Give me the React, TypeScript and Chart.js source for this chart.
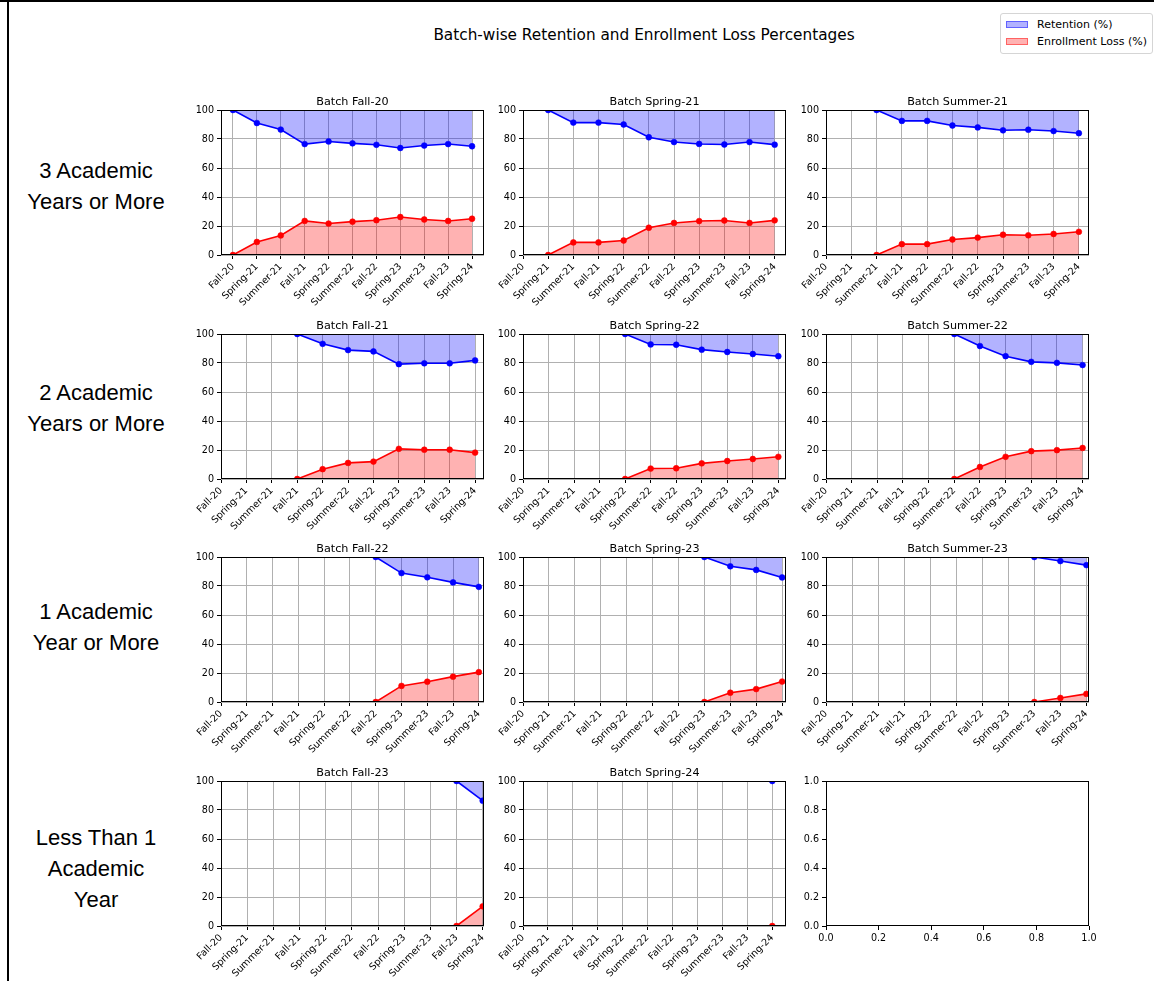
import React, { useEffect, useRef } from 'react';
import { Chart, registerables } from 'chart.js';

Chart.register(...registerables);
Chart.defaults.font.family = '"DejaVu Sans", sans-serif';
Chart.defaults.color = '#000';

// ---------- data ----------
const semesters = ['Fall-20', 'Spring-21', 'Summer-21', 'Fall-21', 'Spring-22', 'Summer-22', 'Fall-22', 'Spring-23', 'Summer-23', 'Fall-23', 'Spring-24'];
const yTicks = [0, 20, 40, 60, 80, 100];
const emptyTicks = [0, 0.2, 0.4, 0.6, 0.8, 1.0];

const retentionFall20 = [100, 91, 86.5, 76.5, 78.3, 77, 76, 73.8, 75.5, 76.5, 75];
const lossFall20 = [0, 9, 13.5, 23.5, 21.7, 23, 24, 26.2, 24.5, 23.5, 25];
const retentionSpring21 = [100, 91.3, 91.3, 90, 81.2, 77.9, 76.6, 76.2, 77.9, 76.1];
const lossSpring21 = [0, 8.7, 8.7, 10, 18.8, 22.1, 23.4, 23.8, 22.1, 23.9];
const retentionSummer21 = [100, 92.5, 92.5, 89.3, 88, 86, 86.4, 85.5, 84];
const lossSummer21 = [0, 7.5, 7.5, 10.7, 12, 14, 13.6, 14.5, 16];
const retentionFall21 = [100, 93.2, 88.9, 88, 79.2, 79.8, 79.8, 81.8];
const lossFall21 = [0, 6.8, 11.1, 12, 20.8, 20.2, 20.2, 18.2];
const retentionSpring22 = [100, 92.8, 92.6, 89.2, 87.6, 86.2, 84.7];
const lossSpring22 = [0, 7.2, 7.4, 10.8, 12.4, 13.8, 15.3];
const retentionSummer22 = [100, 91.7, 84.7, 80.8, 80.1, 78.6];
const lossSummer22 = [0, 8.3, 15.3, 19.2, 19.9, 21.4];
const retentionFall22 = [100, 88.9, 86, 82.5, 79.4];
const lossFall22 = [0, 11.1, 14, 17.5, 20.6];
const retentionSpring23 = [100, 93.6, 91.1, 85.9];
const lossSpring23 = [0, 6.4, 8.9, 14.1];
const retentionSummer23 = [100, 97.2, 94.4];
const lossSummer23 = [0, 2.8, 5.6];
const retentionFall23 = [100, 86.4];
const lossFall23 = [0, 13.6];
const retentionSpring24 = [100];
const lossSpring24 = [0];

const batches = [
  { name: 'Fall-20', retention: retentionFall20, loss: lossFall20 },
  { name: 'Spring-21', retention: retentionSpring21, loss: lossSpring21 },
  { name: 'Summer-21', retention: retentionSummer21, loss: lossSummer21 },
  { name: 'Fall-21', retention: retentionFall21, loss: lossFall21 },
  { name: 'Spring-22', retention: retentionSpring22, loss: lossSpring22 },
  { name: 'Summer-22', retention: retentionSummer22, loss: lossSummer22 },
  { name: 'Fall-22', retention: retentionFall22, loss: lossFall22 },
  { name: 'Spring-23', retention: retentionSpring23, loss: lossSpring23 },
  { name: 'Summer-23', retention: retentionSummer23, loss: lossSummer23 },
  { name: 'Fall-23', retention: retentionFall23, loss: lossFall23 },
  { name: 'Spring-24', retention: retentionSpring24, loss: lossSpring24 },
];

const rowLabels = [
  ['3 Academic', 'Years or More'],
  ['2 Academic', 'Years or More'],
  ['1 Academic', 'Year or More'],
  ['Less Than 1', 'Academic', 'Year'],
];

const mainTitle = 'Batch-wise Retention and Enrollment Loss Percentages';
const legendItems = ['Retention (%)', 'Enrollment Loss (%)'];

// ---------- layout ----------
const PLOT_LEFT = [221, 523, 826];
const PLOT_TOP = [110, 334, 557, 781];
const PLOT_W = 263;
const PLOT_H = 145;
const PAD_L = 40;
const PAD_T = 26;
const PAD_R = 14;
const PAD_B = 62;
const ROW_CENTER = [186, 408, 627, 868];

const BLUE = '#0000ff';
const RED = '#ff0000';
const BLUE_FILL = 'rgba(0,0,255,0.3)';
const RED_FILL = 'rgba(255,0,0,0.3)';
const GRID = '#b0b0b0';
const TICK_FONT = { size: 9.6 };

const frameAndTitle = {
  id: 'frameAndTitle',
  afterDatasetsDraw(chart: any, _args: any, opts: any) {
    const { ctx, chartArea: a } = chart;
    ctx.save();
    ctx.strokeStyle = '#000';
    ctx.lineWidth = 1;
    ctx.strokeRect(Math.round(a.left) + 0.5, Math.round(a.top) + 0.5, Math.round(a.right - a.left) - 1, Math.round(a.bottom - a.top) - 1);
    if (opts && opts.text) {
      ctx.fillStyle = '#000';
      ctx.font = '11.2px "DejaVu Sans", sans-serif';
      ctx.textAlign = 'center';
      ctx.textBaseline = 'alphabetic';
      ctx.fillText(opts.text, (a.left + a.right) / 2, a.top - 5);
    }
    ctx.restore();
  },
};

function fixedTicks(values: number[]) {
  return (scale: any) => {
    scale.ticks = values.map((v) => ({ value: v }));
  };
}

function makeConfig(batchIndex: number) {
  const b = batches[batchIndex];
  if (!b) {
    return {
      type: 'line',
      data: { datasets: [] },
      plugins: [frameAndTitle],
      options: {
        animation: false,
        responsive: false,
        events: [],
        layout: { padding: { top: PAD_T, right: PAD_R, left: 0, bottom: 0 } },
        plugins: { legend: { display: false }, tooltip: { enabled: false }, frameAndTitle: { text: '' } },
        scales: {
          x: {
            type: 'linear', min: 0, max: 1,
            afterBuildTicks: fixedTicks(emptyTicks),
            afterFit: (s: any) => { s.height = PAD_B; },
            border: { display: false },
            grid: { drawOnChartArea: false, tickColor: '#000', tickLength: 4 },
            ticks: { font: TICK_FONT, maxRotation: 0, minRotation: 0, padding: 3, callback: (v: any) => Number(v).toFixed(1) },
          },
          y: {
            type: 'linear', min: 0, max: 1,
            afterBuildTicks: fixedTicks(emptyTicks),
            afterFit: (s: any) => { s.width = PAD_L; },
            border: { display: false },
            grid: { drawOnChartArea: false, tickColor: '#000', tickLength: 4 },
            ticks: { font: TICK_FONT, padding: 3, callback: (v: any) => Number(v).toFixed(1) },
          },
        },
      },
    };
  }
  const start = semesters.indexOf(b.name);
  const last = semesters.length - 1;
  const span = last - start;
  const xMin = start === 0 ? -0.5 : 0;
  const xMax = span === 0 ? last + 0.55 : last + span * 0.05;
  const toPts = (arr: number[]) => arr.map((v, i) => ({ x: start + i, y: v }));
  return {
    type: 'line',
    data: {
      datasets: [
        {
          label: 'Retention (%)',
          data: toPts(b.retention),
          borderColor: BLUE,
          backgroundColor: BLUE_FILL,
          pointBackgroundColor: BLUE,
          pointBorderColor: BLUE,
          pointRadius: 2.9,
          pointBorderWidth: 0.6,
          borderWidth: 1.6,
          fill: { value: 100 },
          tension: 0,
          clip: 0,
        },
        {
          label: 'Enrollment Loss (%)',
          data: toPts(b.loss),
          borderColor: RED,
          backgroundColor: RED_FILL,
          pointBackgroundColor: RED,
          pointBorderColor: RED,
          pointRadius: 2.9,
          pointBorderWidth: 0.6,
          borderWidth: 1.6,
          fill: { value: 0 },
          tension: 0,
          clip: 0,
        },
      ],
    },
    plugins: [frameAndTitle],
    options: {
      animation: false,
      responsive: false,
      events: [],
      layout: { padding: { top: PAD_T, right: PAD_R, left: 0, bottom: 0 } },
      plugins: {
        legend: { display: false },
        tooltip: { enabled: false },
        frameAndTitle: { text: 'Batch ' + b.name },
      },
      scales: {
        x: {
          type: 'linear', min: xMin, max: xMax,
          afterBuildTicks: fixedTicks(semesters.map((_, i) => i)),
          afterFit: (s: any) => { s.height = PAD_B; },
          border: { display: false },
          grid: { color: GRID, lineWidth: 1, tickColor: '#000', tickLength: 4 },
          ticks: {
            font: TICK_FONT, autoSkip: false, maxRotation: 45, minRotation: 45, padding: 2,
            callback: (v: any) => semesters[Math.round(Number(v))] ?? '',
          },
        },
        y: {
          type: 'linear', min: 0, max: 100,
          afterBuildTicks: fixedTicks(yTicks),
          afterFit: (s: any) => { s.width = PAD_L; },
          border: { display: false },
          grid: { color: GRID, lineWidth: 1, tickColor: '#000', tickLength: 4 },
          ticks: { font: TICK_FONT, padding: 3 },
        },
      },
    },
  };
}

function Panel({ index, row, col }: { index: number; row: number; col: number }) {
  const ref = useRef<HTMLCanvasElement | null>(null);
  const width = PAD_L + PLOT_W + PAD_R;
  const height = PAD_T + PLOT_H + PAD_B;
  useEffect(() => {
    if (!ref.current) return;
    const chart = new Chart(ref.current, makeConfig(index) as any);
    return () => chart.destroy();
  }, [index]);
  return (
    <canvas
      ref={ref}
      width={width}
      height={height}
      style={{ position: 'absolute', left: PLOT_LEFT[col] - PAD_L, top: PLOT_TOP[row] - PAD_T, width, height }}
    />
  );
}

export default function App() {
  const panels = [];
  for (let r = 0; r < 4; r++) {
    for (let c = 0; c < 3; c++) {
      const idx = r * 3 + c;
      panels.push(<Panel key={idx} index={idx} row={r} col={c} />);
    }
  }
  return (
    <div style={{ position: 'absolute', left: 0, top: 0, width: 1154, height: 981, background: '#fff', overflow: 'hidden' }}>
      <div style={{ position: 'absolute', left: 0, top: 0, width: 1154, height: 2, background: '#000' }} />
      <div style={{ position: 'absolute', left: 7, top: 0, width: 1.5, height: 981, background: '#000' }} />
      <div
        style={{
          position: 'absolute', left: 344, width: 600, top: 26, textAlign: 'center',
          font: '15.3px "DejaVu Sans", sans-serif', color: '#000', lineHeight: '18px', whiteSpace: 'nowrap',
        }}
      >
        {mainTitle}
      </div>
      {rowLabels.map((lines, r) => (
        <div
          key={r}
          style={{
            position: 'absolute', left: 0, width: 192, top: ROW_CENTER[r] - (lines.length * 31) / 2,
            textAlign: 'center', font: '22px "Liberation Sans", Arial, sans-serif', lineHeight: '31px', color: '#000',
          }}
        >
          {lines.map((l, i) => (
            <div key={i}>{l}</div>
          ))}
        </div>
      ))}
      {panels}
      <div
        style={{
          position: 'absolute', left: 1000, top: 13, width: 151, height: 39, border: '1px solid #d5d5d5',
          borderRadius: 3, background: '#fff', font: '11px "DejaVu Sans", sans-serif', color: '#000',
        }}
      >
        {legendItems.map((t, i) => (
          <div key={i} style={{ position: 'absolute', left: 5, top: 3 + i * 17, height: 14, display: 'flex', alignItems: 'center', whiteSpace: 'nowrap' }}>
            <span
              style={{
                display: 'inline-block', width: 22, height: 7, marginRight: 9,
                background: i === 0 ? BLUE_FILL : RED_FILL,
                border: i === 0 ? '1px solid rgba(0,0,255,0.45)' : '1px solid rgba(255,0,0,0.45)',
                boxSizing: 'border-box',
              }}
            />
            {t}
          </div>
        ))}
      </div>
    </div>
  );
}
